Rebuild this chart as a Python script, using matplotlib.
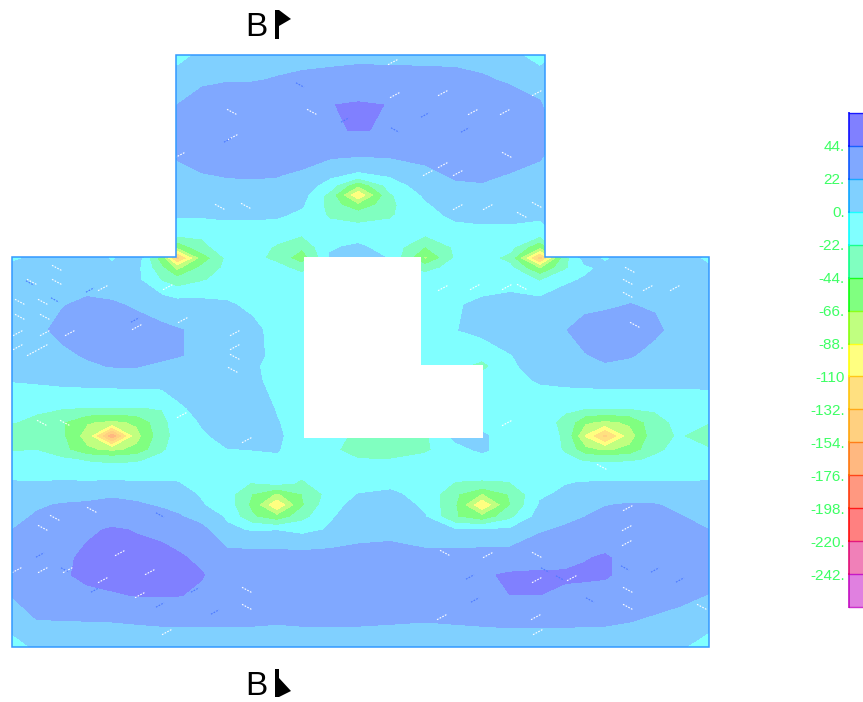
import matplotlib
matplotlib.use('Agg')
import matplotlib.pyplot as plt
import numpy as np
from matplotlib.colors import to_rgb
from matplotlib.patches import Polygon

plt.rcParams['font.family'] = ['Liberation Sans', 'DejaVu Sans']

# band colours, low to high, at full strength (the fills are these at half strength)
band_colors = ['#c000c0', '#e00070', '#ff0000', '#ff3000', '#ff7000', '#ffa000', '#ffc000', '#ffff00',
               '#80ff00', '#00ff00', '#00ff80', '#00ffff', '#00a0ff', '#0050ff', '#0000ff']
levels = [-264, -242, -220, -198, -176, -154, -132, -110, -88, -66, -44, -22, 0, 22, 44, 66]
tick_levels = [-242, -220, -198, -176, -154, -132, -110, -88, -66, -44, -22, 0, 22, 44]
tick_labels = ['-242.', '-220.', '-198.', '-176.', '-154.', '-132.', '-110', '-88.', '-66.', '-44.',
               '-22.', '0.', '22.', '44.']

# slab outline and opening
slab_x = [12, 176, 176, 545, 545, 709, 709, 12]
slab_y = [257, 257, 55, 55, 257, 257, 647, 647]
hole_x = [304, 421, 421, 483, 483, 304]
hole_y = [257, 257, 365, 365, 438, 438]

# values at each grid node
grid_x = [12, 37, 62, 87, 112, 137, 162, 177, 202, 227, 252, 277, 302, 330, 358, 390, 425, 455, 482, 510,
          540, 565, 585, 605, 630, 655, 680, 709]
grid_y = [55, 80, 105, 130, 155, 175, 185, 195, 205, 215, 235, 247, 258, 268, 280, 305, 330, 355, 366, 380, 408,
          422, 436, 450, 460, 483, 494, 505, 517, 530, 558, 575, 595, 622, 647]
force = [
    [11, 11, 11, 11, 11, 11, 11, -14, 8, 15, 16, 16, 17, 17, 17, 17, 17, 17, 16, 10, -16, 11, 11, 11, 11, 11, 11, 11],
    [11, 11, 11, 11, 11, 11, 11, 16, 20, 21, 21, 23, 25, 27, 30, 29, 28, 27, 24, 20, 18, 11, 11, 11, 11, 11, 11, 11],
    [11, 11, 11, 11, 11, 11, 11, 22, 27, 32, 33, 33, 34, 43.5, 46, 43.5, 34, 33, 32, 30, 23, 11, 11, 11, 11, 11, 11, 11],
    [11, 11, 11, 11, 11, 11, 11, 33, 34, 34, 34, 34, 35, 43.5, 44.3, 43.5, 34, 34, 34, 33, 32, 11, 11, 11, 11, 11, 11, 11],
    [11, 11, 11, 11, 11, 11, 11, 24, 30, 33, 33, 33, 32, 26, 24, 25, 26, 31, 33, 30, 24, 11, 11, 11, 11, 11, 11, 11],
    [11, 11, 11, 11, 11, 11, 11, 16, 21, 23, 24, 23, 18, 4, -5, 2, 18, 24, 25, 21, 17, 11, 11, 11, 11, 11, 11, 11],
    [11, 11, 11, 11, 11, 11, 11, 14, 17, 19, 19, 18, 13, -10, -62, -12, 11, 20, 21, 18, 15, 11, 11, 11, 11, 11, 11, 11],
    [11, 11, 11, 11, 11, 11, 11, 12, 13, 14, 14, 13, 8, -30, -115, -25, 3, 15, 16, 14, 12, 11, 11, 11, 11, 11, 11, 11],
    [11, 11, 11, 11, 11, 11, 11, 7, 8, 9, 9, 8, 2, -30, -65, -27, -3, 10, 12, 11, 9, 11, 11, 11, 11, 11, 11, 11],
    [11, 11, 11, 11, 11, 11, 11, 2, 3, 4, 4, 3, -5, -25, -32, -24, -10, 6, 8, 8, 6, 11, 11, 11, 11, 11, 11, 11],
    [11, 11, 11, 11, 11, 11, 11, -18, -20, -12, -12, -16, -21, -10, -8, -14, -21, -14, -10, -10, -18, 11, 11, 11, 11, 11, 11, 11],
    [11, 11, 11, 11, 11, 11, 11, -65, -26, -15, -15, -24, -40, -2, 3, -8, -45, -19, -11, -14, -65, 11, 11, 11, 11, 11, 11, 11],
    [-6, 6, 11, 11, -3, 12, -60, -150, -60, -18, -16, -28, -60, 2, 15, -2, -72, -20, -12, -30, -150, -30, 8, -3, 10, 11, 12, -6],
    [8, 10, 12, 13, 5, 5, -40, -75, -38, -17, -14, -15, -30, -8, -5, -8, -30, -14, -10, -16, -70, -26, -4, 4, 12, 12, 12, 3],
    [11, 12, 13, 14, 13, 4, -24, -35, -24, -15, -12, -11, -10, -10, -10, -10, -10, -9, -9, -8, -24, -4, 2, 12, 13, 13, 12, 11],
    [12, 16, 21, 26, 24, 20, 15, 11, 8, 3, -5, -11, -10, -10, -10, -10, -10, -2, 4, 8, 11, 14, 17, 19, 22.5, 20, 13, 11],
    [11, 18, 27, 31, 31, 28, 25, 23, 19, 10, 6, -8, -12, -10, -10, -10, -10, -1, 6, 13, 17, 21, 30, 32, 32, 26, 14, 11],
    [11, 15, 18, 24, 32, 30, 28, 24, 16, 12, 6, -6, -12, -10, -10, -10, -10, -7, -14, -1, 10, 15, 21, 26, 24, 15, 12, 11],
    [11, 12, 14, 19, 23, 23, 17, 14, 10, 7, 3, -7, -11, -10, -10, -10, -10, -15, -30, -3, 7, 12, 14, 20, 16, 12, 11, 11],
    [1, 3, 6, 8, 9, 10, 10, 10, 10, 8, 5, -8, -10, -10, -10, -10, -10, -10, -12, -6, 2, 6, 8, 9, 9, 8, 5, 3],
    [-15, -19, -21, -23, -23, -23, -21, -4, 6, 11, 13, -2, -11, -10, -10, -10, -10, -8, -10, -9, -12, -19, -21, -21, -21, -19, -12, -6],
    [-21, -26, -42, -64, -72, -62, -28, -13, 2, 9, 8, 1, -10, -10, -10, -10, -10, -8, -7, -8, -14, -27, -62, -72, -62, -30, -16, -21],
    [-45, -28, -40, -78, -180, -75, -30, -16, -3, 6, 7, 3, -9, -12, -28, -32, -26, 5, 3, -9, -12, -25, -92, -145, -78, -30, -20, -45],
    [-24, -22.5, -36, -62, -72, -60, -25, -14, -5, -1, 0, 1, -9, -18, -30, -34, -26, -7, 3, -9, -11, -24, -60, -70, -60, -24, -19, -18],
    [-10, -14, -18, -24, -27, -25, -16, -11, -8, -8, -5, -3, -9, -13, -21, -21, -14, -9, -9, -9, -11, -18, -24, -25, -24, -20, -12, -10],
    [1, 1, 2, 2, 3, 2, 1, 0.5, -5, -12, -23, -15, -25, -10, -8, -5, -10, -23, -24, -23, -5, -1, 1, 1.5, 1.5, 1.5, 1, 1],
    [4, 8, 10, 13, 19, 15, 8, 6, -2, -13, -44, -70, -44, -14, 0, 3, -6, -40, -68, -42, -3, 3, 8, 10, 12, 12, 8, 5],
    [8, 19, 24, 26, 27, 25, 19, 15, 1, -10, -50, -115, -48, -6, 5, 8, -3, -42, -115, -45, 2, 10, 18, 21, 24, 23, 18, 12],
    [15, 25, 29, 33, 36, 34, 30, 25, 14, -3, -40, -60, -30, -2, 8, 12, 1, -42, -60, -28, 10, 17, 22, 28, 30, 28, 23, 17],
    [22, 29, 33, 41, 46, 43, 40, 35, 28, 4, -2, -1, -6, 2, 12, 15, 3, 1, 3, 3, 20, 25, 28, 33, 35, 32, 27, 22],
    [27, 33, 40, 48, 50, 50, 49, 47, 40, 32, 32, 32, 32, 32, 32, 32, 32, 32, 33, 34, 36, 37, 43, 46, 38, 37, 34, 30],
    [31, 36, 41, 49, 52, 53, 51, 49, 45, 35, 31, 31, 31, 32, 33, 33, 34, 36, 42, 46, 47, 47, 47, 46, 38, 36, 34, 31],
    [23, 33, 36, 39, 42, 45, 45, 45, 41, 35, 33, 33, 33, 33, 33, 33, 33, 34, 36, 44, 44, 40, 38, 37, 36, 34, 29, 21],
    [9, 21, 21, 21.5, 22, 23, 24, 24, 24, 24, 24, 23, 24, 24, 24, 23, 22, 23, 24, 25, 25, 25, 24, 24, 22, 17, 12, 8],
    [-10, 4, 12, 12, 12, 12, 12, 12, 12, 12, 12, 12, 12, 12, 12, 12, 12, 12, 12, 12, 12, 12, 12, 12, 12, 10, 3, -12],
]

# little reinforcement dashes on the slab, 1 rises to the right, -1 falls
white_x = [42, 65, 182, 247, 120, 150, 43, 17, 68, 43, 92, 55, 103, 140, 247, 247, 167, 233, 57, 32, 57, 20, 43, 20, 45,
           18, 45, 18, 43, 32, 70, 137, 183, 235, 235, 235, 103, 168, 232, 312, 220, 246, 180, 233, 395, 393, 428, 443,
           473, 505, 507, 443, 458, 537, 522, 537, 458, 488, 443, 475, 507, 522, 635, 628, 648, 675, 630, 628, 507, 537,
           572, 445, 488, 537, 628, 627, 627, 628, 628, 702, 442, 536, 538, 602]
white_y = [423, 423, 415, 440, 553, 572, 570, 570, 570, 528, 510, 518, 580, 595, 590, 607, 632, 370, 268, 282, 282, 302,
           302, 317, 317, 333, 333, 347, 347, 353, 333, 327, 320, 347, 333, 357, 288, 287, 112, 112, 207, 206, 155, 137,
           95, 62, 173, 93, 112, 112, 155, 165, 173, 93, 215, 205, 207, 207, 288, 287, 287, 287, 325, 295, 288, 288, 270,
           282, 423, 580, 578, 553, 555, 555, 508, 528, 543, 590, 607, 607, 617, 617, 632, 467]
white_s = [-1, -1, 1, 1, 1, 1, 1, 1, 1, -1, -1, -1, 1, 1, -1, -1, 1, -1, -1, -1, -1, -1, -1, -1, -1, 1, 1, 1, 1, 1, 1, 1, 1,
           1, 1, -1, 1, 1, -1, -1, -1, -1, 1, 1, 1, 1, 1, 1, 1, 1, -1, 1, 1, 1, -1, -1, 1, 1, 1, 1, 1, -1, -1, -1, 1, 1, -1,
           -1, 1, 1, 1, -1, 1, -1, 1, 1, 1, -1, -1, -1, 1, 1, 1, -1]
blue_x = [40, 65, 95, 160, 160, 195, 300, 345, 395, 425, 465, 475, 590, 625, 655, 680, 90, 135, 228, 30, 55, 215, 545, 560, 470]
blue_y = [555, 570, 590, 605, 515, 590, 85, 120, 130, 115, 130, 600, 600, 568, 570, 580, 290, 320, 140, 283, 300, 612, 570, 578, 577]
blue_s = [1, -1, 1, 1, -1, 1, -1, 1, -1, 1, 1, 1, -1, -1, 1, 1, 1, 1, 1, -1, -1, 1, -1, -1, 1]

fills = [tuple((c + 1) / 2 for c in to_rgb(b)) for b in band_colors]

fig = plt.figure(figsize=(8.63, 7.02), dpi=100)
ax = fig.add_axes([0, 0, 1, 1])
ax.set_xlim(0, 863)
ax.set_ylim(702, 0)
ax.axis('off')

cs = ax.contourf(grid_x, grid_y, np.array(force), levels=levels, colors=fills)
slab = Polygon(np.column_stack([slab_x, slab_y]), closed=True, transform=ax.transData, fill=False,
               edgecolor='#3399ff', linewidth=1.1, zorder=6)
ax.add_patch(slab)
cs.set_clip_path(slab)

for i in range(len(white_x)):
    ax.plot([white_x[i] - 5, white_x[i] + 5], [white_y[i] + 2.7 * white_s[i], white_y[i] - 2.7 * white_s[i]],
            color='white', lw=0.8, ls=(0, (1.5, 1.2)), zorder=3)
for i in range(len(blue_x)):
    ax.plot([blue_x[i] - 4, blue_x[i] + 4], [blue_y[i] + 2.2 * blue_s[i], blue_y[i] - 2.2 * blue_s[i]],
            color='#4a78ff', lw=0.8, ls=(0, (1.5, 1.2)), zorder=3)

ax.fill(hole_x, hole_y, color='white', lw=0, zorder=5)

# section marks
ax.text(245, 36, 'B', fontsize=24, color='black', ha='left', va='baseline')
ax.text(245, 695, 'B', fontsize=24, color='black', ha='left', va='baseline')
ax.fill([275, 279, 279, 291, 279, 279, 275], [10, 10, 10, 19, 26, 39, 39], color='black', lw=0)
ax.fill([275, 279, 279, 291, 279, 275], [669, 669, 678, 691, 697, 697], color='black', lw=0)

# colour key
cax = fig.add_axes([849 / 863, 1 - 607 / 702, 15 / 863, 494 / 702])
cbar = fig.colorbar(cs, cax=cax, spacing='uniform')
cbar.outline.set_visible(False)
cax.yaxis.set_ticks_position('left')
cbar.set_ticks(tick_levels)
cbar.set_ticklabels(tick_labels)
cax.tick_params(axis='y', length=0, pad=3, labelsize=11, labelcolor='#3cff64')
cax.minorticks_off()
for i in range(len(band_colors)):
    cax.plot([0, 1], [levels[i + 1], levels[i + 1]], color=band_colors[i], lw=1.0, alpha=0.8, clip_on=False)
    cax.plot([0, 0], [levels[i], levels[i + 1]], color=band_colors[i], lw=1.4, alpha=0.8, clip_on=False)
cax.plot([0, 1], [levels[0], levels[0]], color=band_colors[0], lw=1.0, alpha=0.8, clip_on=False)

fig.savefig('out.png', dpi=100)
